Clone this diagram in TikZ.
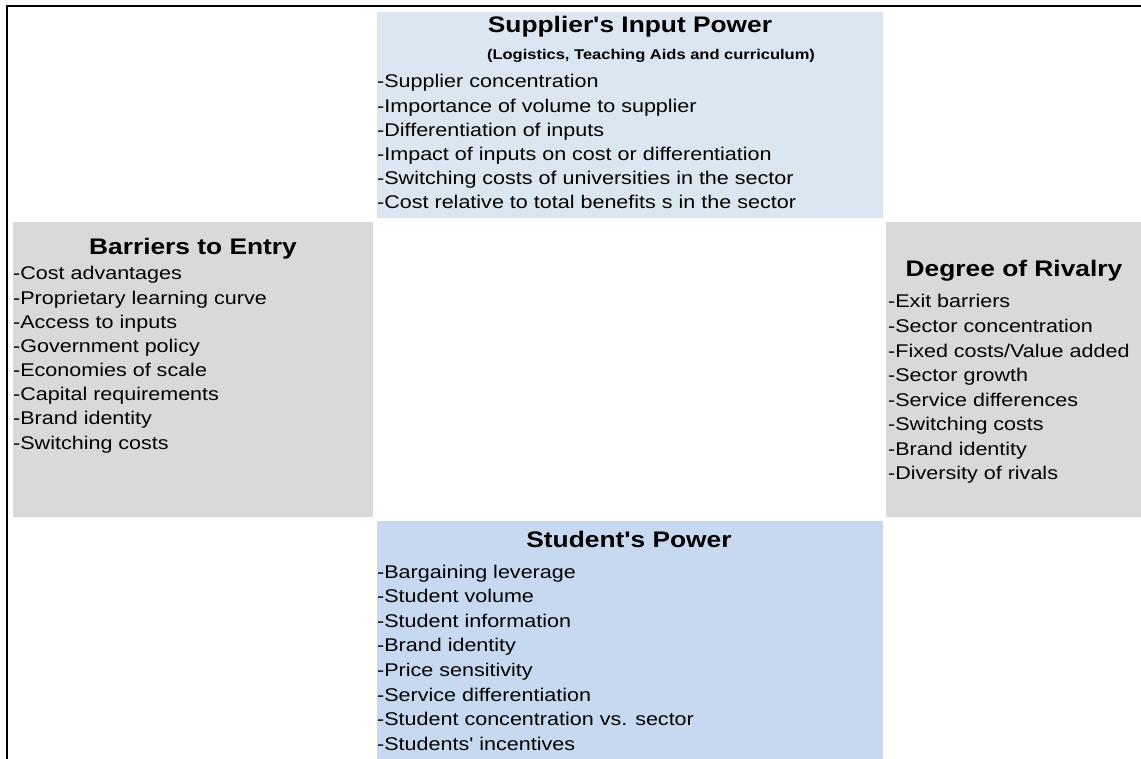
\documentclass[tikz,border=0pt]{standalone}
\usepackage{fontspec}
\setmainfont{Liberation Sans}[Ligatures=TeXOff]
\definecolor{supblue}{HTML}{DCE6F1}
\definecolor{stublue}{HTML}{C6D9F0}
\definecolor{boxgray}{HTML}{D9D9D9}
\newcommand\widetxt[1]{\scalebox{1.17}[1]{#1}}
\begin{document}
\begin{tikzpicture}[x=1pt,y=-1pt,
  item/.style={anchor=base west, inner sep=0pt, font=\fontsize{18.4}{20}\selectfont},
  ttl/.style={anchor=base, inner sep=0pt, font=\fontsize{22.5}{24}\selectfont\bfseries},
  subttl/.style={anchor=base, inner sep=0pt, font=\fontsize{14.1}{16}\selectfont\bfseries},
  panel/.style={draw=none, inner sep=0pt, anchor=north west}]
\useasboundingbox (0,0) rectangle (1141,759);
\fill[white] (0,0) rectangle (1141,759);
% panels
\node[panel, fill=supblue, minimum width=506pt, minimum height=206pt] (sup) at (377,12) {};
\node[panel, fill=boxgray, minimum width=360pt, minimum height=295pt] (bar) at (13,222) {};
\node[panel, fill=boxgray, minimum width=255pt, minimum height=295pt] (riv) at (886,222) {};
\node[panel, fill=stublue, minimum width=506pt, minimum height=238pt] (stu) at (377,521) {};
% frame
\draw[line width=2pt] (1141,6) -- (7,6) -- (7,759);
% supplier
\node[ttl] (supT) at (630,33) {\widetxt{Supplier's Input Power}};
\node[subttl] (supS) at (651,60) {\widetxt{(Logistics, Teaching Aids and curriculum)}};
\foreach \t [count=\i from 0] in {-Supplier concentration,-Importance of volume to supplier,-Differentiation of inputs,-Impact of inputs on cost or differentiation,-Switching costs of universities in the sector,-Cost relative to total benefits s in the sector}
  \node[item] (sup\i) at (377,88+24.2*\i) {\widetxt{\t}};
% barriers
\node[ttl] (barT) at (193,255) {\widetxt{Barriers to Entry}};
\foreach \t [count=\i from 0] in {-Cost advantages,-Proprietary learning curve,-Access to inputs,-Government policy,-Economies of scale,-Capital requirements,-Brand identity,-Switching costs}
  \node[item] (bar\i) at (13,280+24.15*\i) {\widetxt{\t}};
% rivalry
\node[ttl] (rivT) at (1014,277) {\widetxt{Degree of Rivalry}};
\foreach \t [count=\i from 0] in {-Exit barriers,-Sector concentration,-Fixed costs/Value added,-Sector growth,-Service differences,-Switching costs,-Brand identity,-Diversity of rivals}
  \node[item] (riv\i) at (888,308+24.55*\i) {\widetxt{\t}};
% students
\node[ttl] (stuT) at (629,547) {\widetxt{Student's Power}};
\foreach \t [count=\i from 0] in {-Bargaining leverage,-Student volume,-Student information,-Brand identity,-Price sensitivity,-Service differentiation,-Student concentration vs. sector,-Students' incentives}
  \node[item] (stu\i) at (377,578+24.6*\i) {\widetxt{\t}};
\end{tikzpicture}
\end{document}
